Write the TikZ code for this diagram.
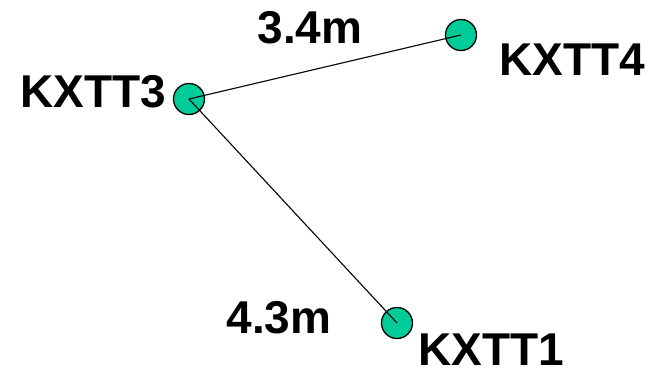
\documentclass[tikz,border=0pt]{standalone}
\usepackage{fontspec}
\setmainfont{Liberation Sans}
\usepackage{tikz}
\usetikzlibrary{positioning}
\definecolor{stationgreen}{RGB}{0,204,153}

\begin{document}
\begin{tikzpicture}[x=1pt, y=1pt,
    station/.style={circle, draw=black, line width=1.3pt, fill=stationgreen,
      minimum size=31pt, inner sep=0pt},
    tag/.style={font=\fontsize{46}{50}\selectfont\bfseries, inner sep=0pt,
      anchor=base},
    link/.style={line width=1.1pt}
  ]
    \useasboundingbox (0,0) rectangle (653,368);
    \node[station] (T3) at (189,269) {};
    \node[station] (T4) at (461,333) {};
    \node[station] (T1) at (397,45) {};
    \node[tag] (L3) at (93.5,261) {KXTT3};
    \node[tag] (L4) at (572,293) {KXTT4};
    \node[tag] (L1) at (491,3) {KXTT1};
    \node[tag] (D34) at (310,325) {3.4m};
    \node[tag] (D31) at (279,35) {4.3m};
    \draw[link] (T3.center) -- (T4.center);
    \draw[link] (T3.center) -- (T1.center);
  \end{tikzpicture}
\end{document}
